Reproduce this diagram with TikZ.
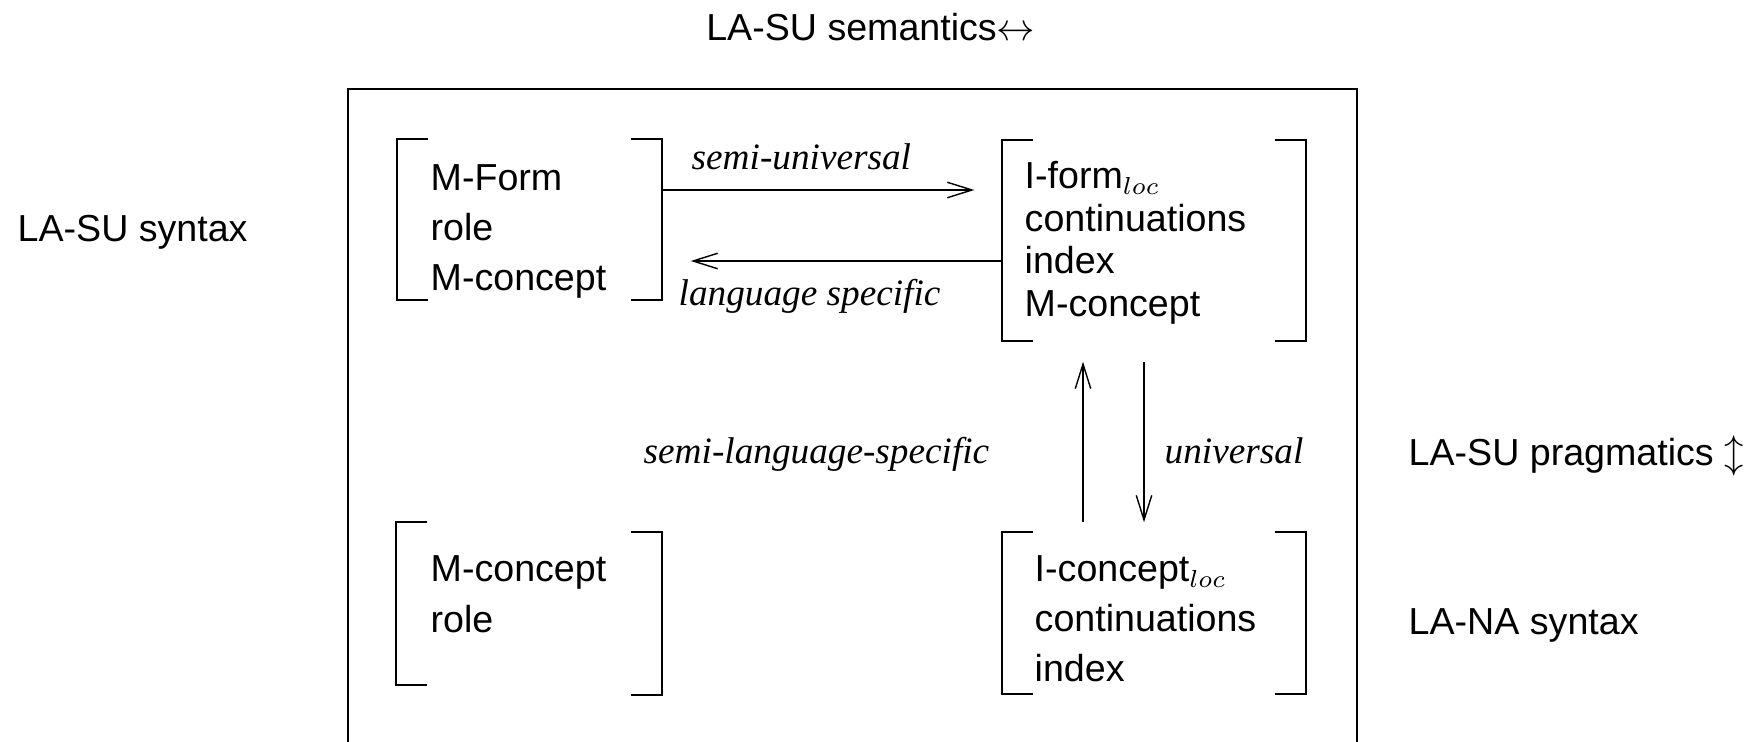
\documentclass[tikz,border=0pt]{standalone}
\usepackage{fontspec}
\setmainfont{Liberation Sans}
\newfontfamily\serifit{Liberation Serif}
\usetikzlibrary{arrows.meta,positioning,fit}

\begin{document}
\begin{tikzpicture}[
    x=0.1mm, y=-0.1mm,
    slot/.style={
        rectangle,
        inner sep=0pt
    },
    entries/.style={
        anchor=north west,
        align=left,
        inner sep=0pt,
        font=\fontsize{10.7}{14.2}\selectfont
    },
    sidelabel/.style={
        anchor=base west,
        inner sep=0pt,
        font=\fontsize{10.7}{13}\selectfont
    },
    rulelabel/.style={
        anchor=base west,
        inner sep=0pt,
        font=\fontsize{10.6}{13}\serifit\itshape
    },
    brk/.style={line width=0.65pt},
    thinarrow/.style={line width=0.4pt, -{Straight Barb[length=7pt,width=4.4pt]}},
    thickarrow/.style={line width=0.7pt, -{Straight Barb[length=7pt,width=4.4pt,line width=0.4pt]}}
]
\useasboundingbox (0,0) rectangle (1757,741);

\draw[line width=0.7pt] (348,750) |- (1357,89) -- (1357,750);

\node[slot, fit={(398,140) (661,299)}] (mform) {};
\node[slot, fit={(1003,141) (1305,340)}] (iform) {};
\node[slot, fit={(397,523) (661,694)}] (mconc) {};
\node[slot, fit={(1003,533) (1305,693)}] (iconc) {};

\foreach \b in {mform,iform,iconc}{
    \draw[brk] ([xshift=3.1mm]\b.north west) -- (\b.north west) -- (\b.south west) -- ++(3.1mm,0);
    \draw[brk] ([xshift=-3.1mm]\b.north east) -- (\b.north east) -- (\b.south east) -- ++(-3.1mm,0);
}
\draw[brk] ([xshift=3.1mm]mconc.north west) -- (mconc.north west) -- ([yshift=1mm]mconc.south west) -- ++(3.1mm,0);
\draw[brk] ([shift={(-3.1mm,-1mm)}]mconc.north east) -- ([yshift=-1mm]mconc.north east) -- (mconc.south east) -- ++(-3.1mm,0);

\node[entries] (mformtxt) at (430,164) {M-Form\\role\\M-concept};
\node[entries, font=\fontsize{10.7}{12.1}\selectfont] (iformtxt) at (1024,161) {I-form$_{loc}$\\continuations\\index\\M-concept};
\node[entries, font=\fontsize{10.7}{14.5}\selectfont] (mconctxt) at (430,555) {M-concept\\role};
\node[entries] (iconctxt) at (1034,555) {I-concept$_{loc}$\\continuations\\index};

\coordinate (su) at ([yshift=2.95mm]mform.east);
\coordinate (ls) at ([yshift=-2.05mm]iform.west);
\draw[thinarrow, shorten >=2.8mm] (su) -- (su -| iform.west);
\draw[thickarrow, shorten >=2.9mm] (ls) -- (ls -| mform.east);
\draw[thickarrow, shorten <=1mm, shorten >=2.1mm] ([xshift=-7.1mm]iconc.north) -- ([xshift=-7.1mm]iform.south);
\draw[thinarrow, shorten <=2.1mm, shorten >=1mm] ([xshift=-1mm]iform.south) -- ([xshift=-1mm]iconc.north);

\node[rulelabel] (semiuni) at (691,169) {semi-universal};
\node[rulelabel] (langspec) at (678,305) {language specific};
\node[rulelabel] (semilang) at (643,463) {semi-language-specific};
\node[rulelabel] (uni) at (1164,463) {universal};

\node[sidelabel, anchor=base east] (sem) at (1036,41) {LA-SU semantics$\leftrightarrow$};
\node[sidelabel] (susyn) at (17,241) {LA-SU syntax};
\node[sidelabel] (prag) at (1408,465) {LA-SU pragmatics $\updownarrow$};
\node[sidelabel] (nasyn) at (1408,634) {LA-NA syntax};

\end{tikzpicture}
\end{document}
